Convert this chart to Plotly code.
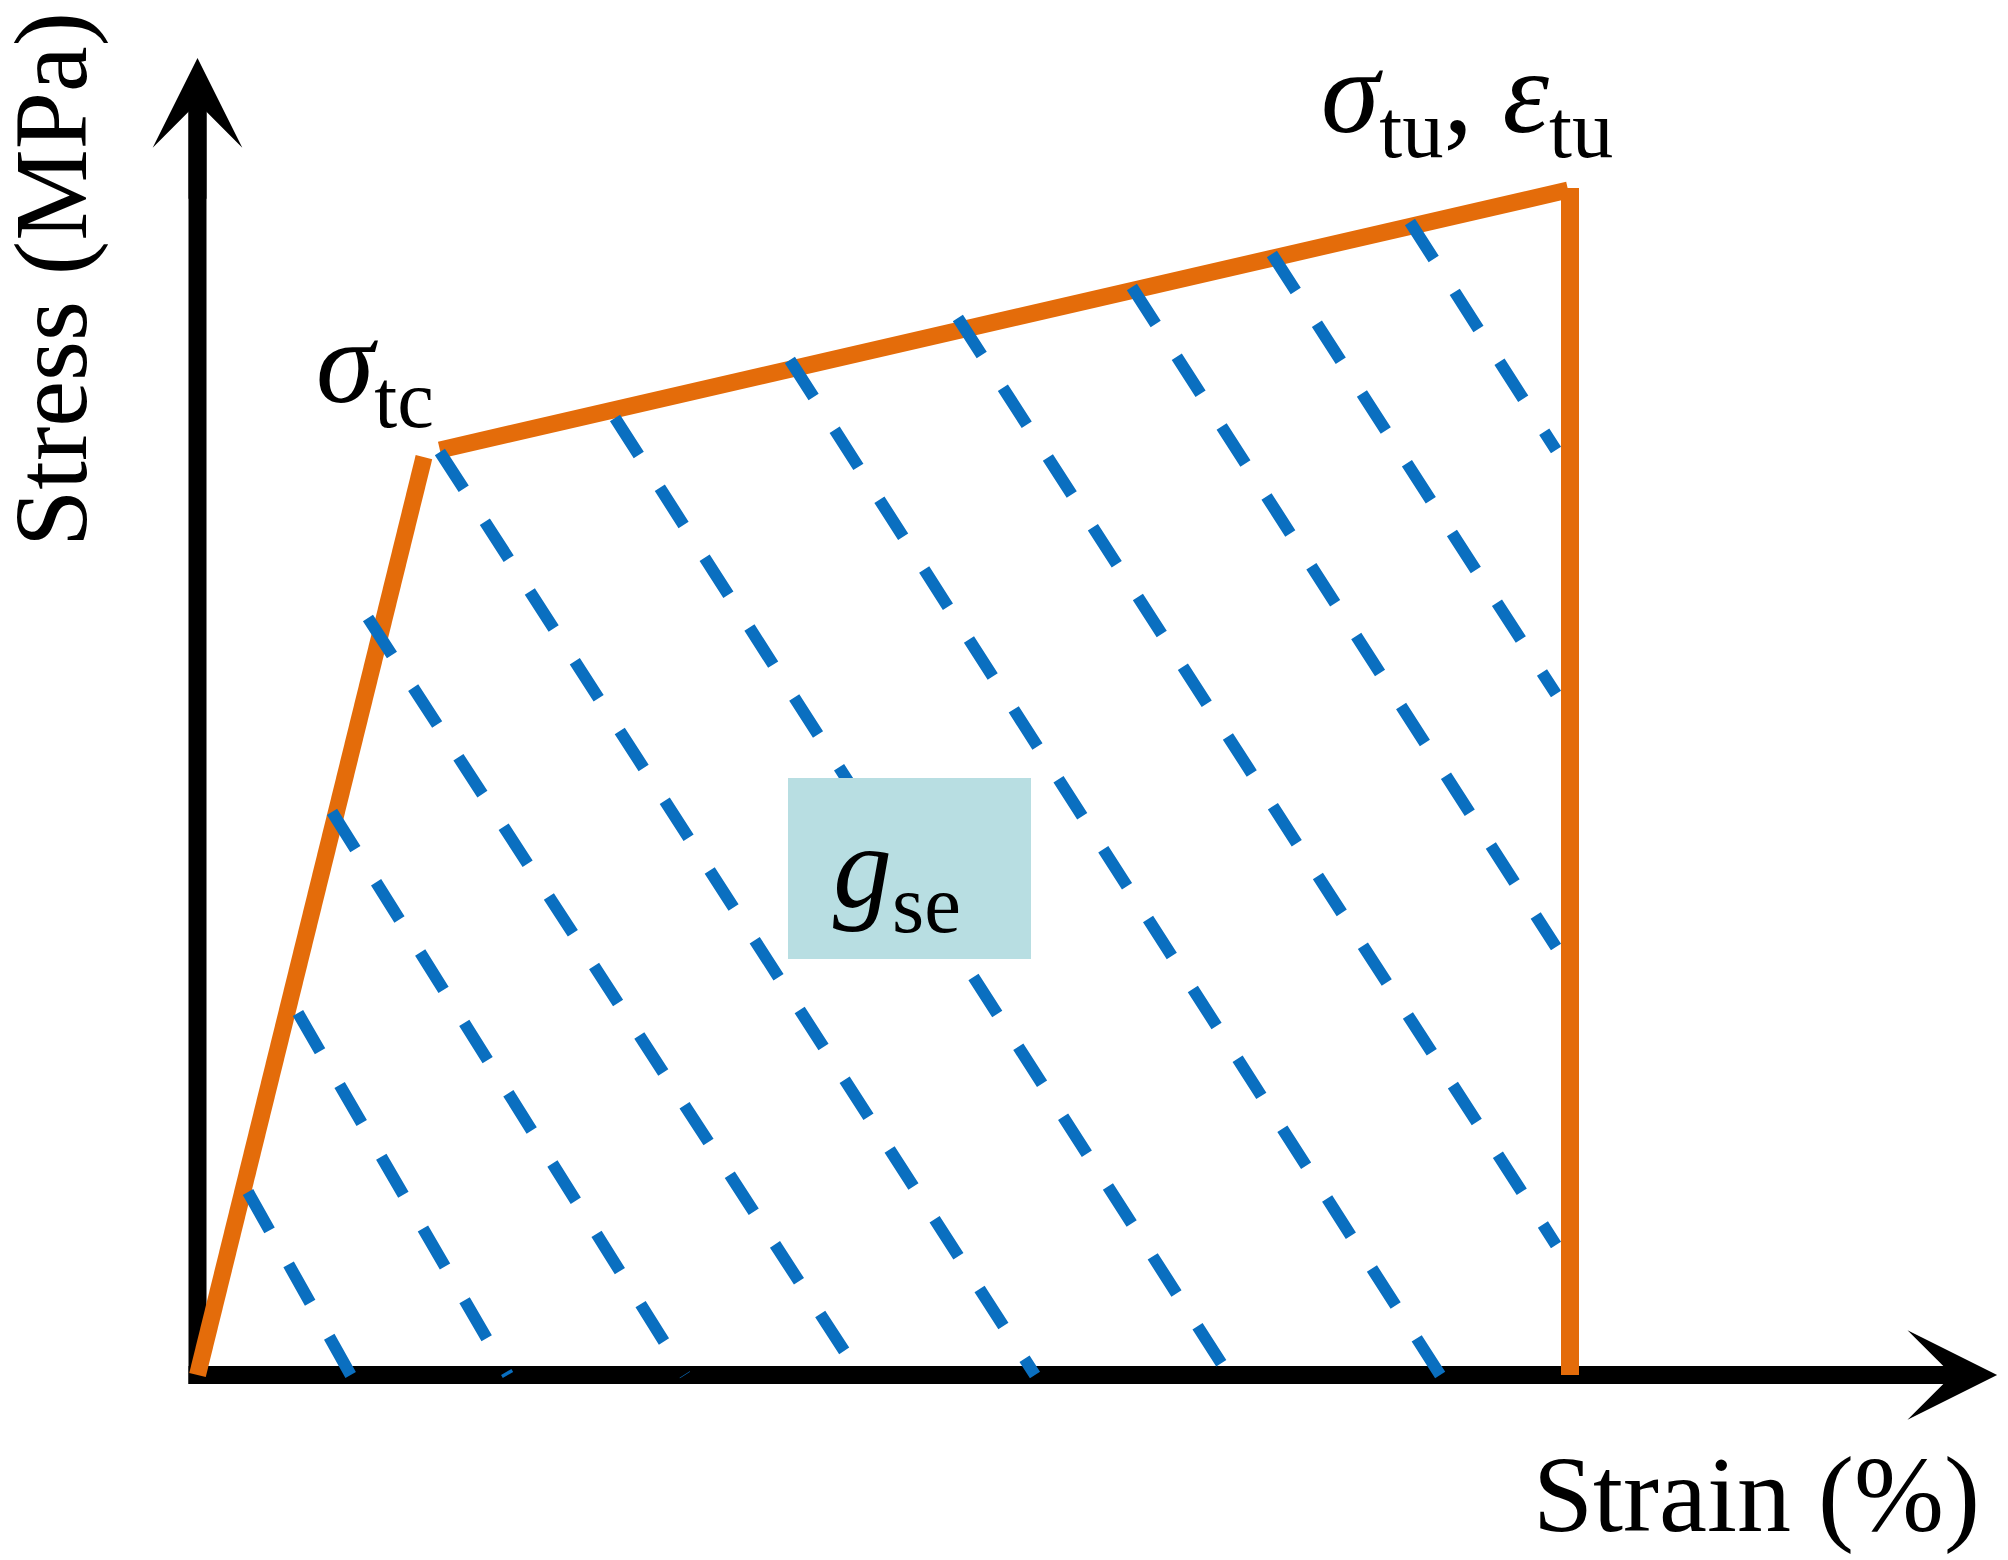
import plotly.graph_objects as go

# ---------------- data (schematic units: strain in %, stress in MPa) ----------------
elastic_strain = [0.0, 0.825]
elastic_stress = [0.0, 3.873]

hardening_strain = [0.883, 4.993]
hardening_stress = [3.903, 5.000]

rupture_strain = [5.0, 5.0]
rupture_stress = [5.008, 0.0]

# hatching of the strain-energy area g_se: start point (on the curve) -> end point
hatch_start_strain = [0.184, 0.366, 0.490, 0.621, 0.883, 1.521, 2.158, 2.770, 3.404, 3.914, 4.417]
hatch_start_stress = [0.772, 1.527, 2.376, 3.194, 3.895, 4.038, 4.283, 4.460, 4.591, 4.730, 4.865]
hatch_end_strain = [0.558, 1.131, 1.776, 2.413, 3.051, 3.757, 4.527, 4.949, 4.949, 4.949, 4.949]
hatch_end_stress = [0.0, 0.0, 0.0, 0.0, 0.0, 0.0, 0.0, 0.549, 1.806, 2.873, 3.903]

axis_strain_max = 6.556
axis_stress_max = 5.557

x_title = "Strain (%)"
y_title = "Stress (MPa)"
label_tc = "<i>σ</i><sub>tc</sub>"
label_tu = "<i>σ</i><sub>tu</sub>, <i>ε</i><sub>tu</sub>"
label_gse = "<i>g</i><sub>se</sub>"

# ---------------- layout / styling ----------------
PAGE_OFF = 8                      # default body margin of the html page
W, H = 2008 - PAGE_OFF, 1560 - PAGE_OFF
ORIGIN_PAGE = (197.5, 1375.0)     # page position of the (0, 0) corner
ORIGIN_FIG = (ORIGIN_PAGE[0] - PAGE_OFF, ORIGIN_PAGE[1] - PAGE_OFF)
PX_PER_X = 274.5
PX_PER_Y = 237.0


def pxx(px):
    return (px - PAGE_OFF) / W


def pxy(py):
    return 1 - (py - PAGE_OFF) / H


ORANGE = "#E46C0A"
BLUE = "#0A6FC0"
BLACK = "#000000"
BOX = "#B8DEE2"
FONT = "Liberation Serif"
FS_XTITLE = 108
FS_YTITLE = 103
FS_LABEL = 118

AXIS_W = 18
x_rng = [(0 - ORIGIN_FIG[0]) / PX_PER_X, (W - ORIGIN_FIG[0]) / PX_PER_X]
y_rng = [(ORIGIN_FIG[1] - H) / PX_PER_Y, ORIGIN_FIG[1] / PX_PER_Y]
half_x = (AXIS_W / 2) / PX_PER_X
half_y = (AXIS_W / 2) / PX_PER_Y

fig = go.Figure()

# axes shafts
fig.add_trace(go.Scatter(x=[-half_x, axis_strain_max - 0.2], y=[0, 0], mode="lines",
                         line=dict(color=BLACK, width=AXIS_W), hoverinfo="skip"))
fig.add_trace(go.Scatter(x=[0, 0], y=[-half_y, axis_stress_max - 0.2], mode="lines",
                         line=dict(color=BLACK, width=AXIS_W), hoverinfo="skip"))

# stress-strain curve
fig.add_trace(go.Scatter(x=elastic_strain, y=elastic_stress, mode="lines",
                         line=dict(color=ORANGE, width=17), hoverinfo="skip"))
fig.add_trace(go.Scatter(x=hardening_strain, y=hardening_stress, mode="lines",
                         line=dict(color=ORANGE, width=17), hoverinfo="skip"))
fig.add_trace(go.Scatter(x=rupture_strain, y=rupture_stress, mode="lines",
                         line=dict(color=ORANGE, width=18), hoverinfo="skip"))

# hatching
for xs, ys, xe, ye in zip(hatch_start_strain, hatch_start_stress, hatch_end_strain, hatch_end_stress):
    fig.add_trace(go.Scatter(x=[xs, xe], y=[ys, ye], mode="lines",
                             line=dict(color=BLUE, width=12, dash="44px,39px"),
                             hoverinfo="skip"))

# g_se box
fig.add_shape(type="rect", xref="paper", yref="paper",
              x0=pxx(788), x1=pxx(1031), y0=pxy(959), y1=pxy(778),
              fillcolor=BOX, line=dict(width=0), layer="above")

annotations = [
    # arrow heads
    dict(x=axis_strain_max, y=0, ax=axis_strain_max - 0.6, ay=0, xref="x", yref="y",
         axref="x", ayref="y", text="", showarrow=True, arrowhead=3, arrowsize=0.83,
         arrowwidth=AXIS_W, arrowcolor=BLACK),
    dict(x=0, y=axis_stress_max, ax=0, ay=axis_stress_max - 0.6, xref="x", yref="y",
         axref="x", ayref="y", text="", showarrow=True, arrowhead=3, arrowsize=0.83,
         arrowwidth=AXIS_W, arrowcolor=BLACK),
    # titles
    dict(x=pxx(1756), y=pxy(1495), xref="paper", yref="paper", text=x_title,
         showarrow=False, font=dict(family=FONT, size=FS_XTITLE, color=BLACK),
         xanchor="center", yanchor="middle"),
    dict(x=pxx(51), y=pxy(280), xref="paper", yref="paper", text=y_title,
         showarrow=False, textangle=-90, font=dict(family=FONT, size=FS_YTITLE, color=BLACK),
         xanchor="center", yanchor="middle"),
    # labels
    dict(x=pxx(375), y=pxy(371), xref="paper", yref="paper", text=label_tc,
         showarrow=False, font=dict(family=FONT, size=FS_LABEL, color=BLACK),
         xanchor="center", yanchor="middle"),
    dict(x=pxx(1467), y=pxy(101), xref="paper", yref="paper", text=label_tu,
         showarrow=False, font=dict(family=FONT, size=FS_LABEL, color=BLACK),
         xanchor="center", yanchor="middle"),
    dict(x=pxx(897), y=pxy(876), xref="paper", yref="paper", text=label_gse,
         showarrow=False, font=dict(family=FONT, size=FS_LABEL, color=BLACK),
         xanchor="center", yanchor="middle"),
]

fig.update_layout(
    width=W, height=H,
    margin=dict(l=0, r=0, t=0, b=0),
    paper_bgcolor="white", plot_bgcolor="white",
    showlegend=False,
    xaxis=dict(range=x_rng, visible=False, fixedrange=True),
    yaxis=dict(range=y_rng, visible=False, fixedrange=True),
    annotations=annotations,
)

fig.write_html("out.html")
